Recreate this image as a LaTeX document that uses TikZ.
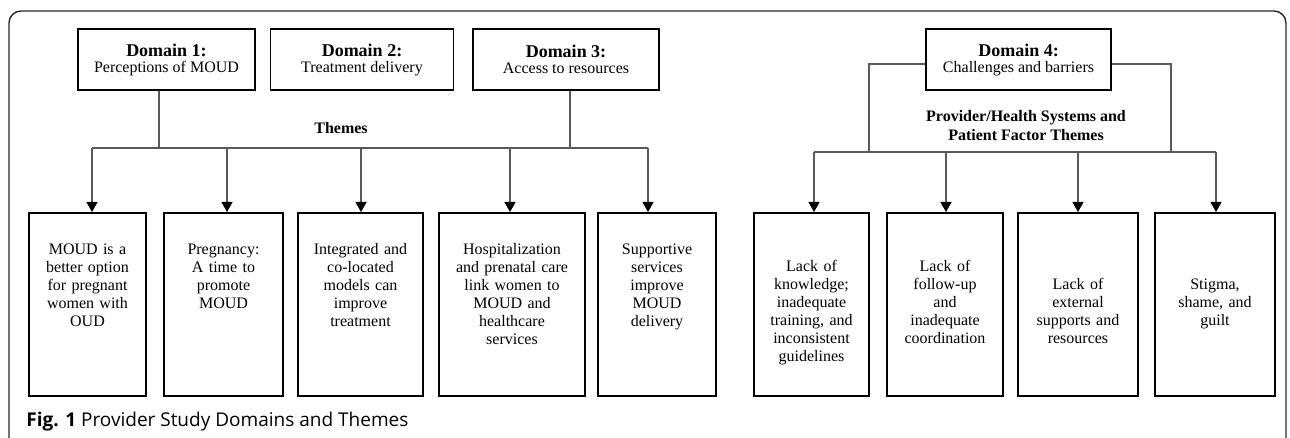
\documentclass[tikz,border=0pt]{standalone}
\usepackage{fontspec}
\setmainfont{Liberation Serif}
\newfontfamily\figcapfont{Open Sans}
\usetikzlibrary{arrows.meta}
\definecolor{LinkClr}{rgb}{0.35,0.35,0.35}
\definecolor{FrameClr}{rgb}{0.15,0.15,0.15}

\begin{document}
\begin{tikzpicture}[x=0.5pt,y=-0.5pt,
  domainbox/.style={draw,line width=0.8pt,minimum height=30.5pt,inner sep=0pt,align=center,font=\fontsize{8}{8}\selectfont},
  themebox/.style={draw,line width=0.8pt,anchor=north,inner sep=0pt,align=center,text height=21pt,text depth=70.5pt,font=\fontsize{8}{9}\selectfont},
  headtxt/.style={align=center,inner sep=0pt,font=\fontsize{8}{9.5}\selectfont\bfseries},
  link/.style={color=LinkClr,line width=0.6pt},
  tip/.style={link,-{Triangle[width=5.5pt,length=5pt,color=black]}}]
\useasboundingbox (0,0) rectangle (1290,438);

\draw[FrameClr,line width=0.7pt,rounded corners=6pt] (9,438) -- (9,11) -- (1286,11) -- (1286,438);

\node[domainbox,minimum width=88.5pt] (d1) at (166.5,59.5) {{\fontsize{9}{9}\selectfont\bfseries Domain 1:}\\Perceptions of MOUD};
\node[domainbox,minimum width=91.5pt] (d2) at (362,59.5) {{\fontsize{9}{9}\selectfont\bfseries Domain 2:}\\Treatment delivery};
\node[domainbox,minimum width=93pt] (d3) at (566,59.5) {{\fontsize{9}{9}\selectfont\bfseries Domain 3:}\\Access to resources};
\node[domainbox,minimum width=92.5pt] (d4) at (1018.5,59.5) {{\fontsize{9}{9}\selectfont\bfseries Domain 4:}\\Challenges and barriers};

\node[headtxt] (themes) at (341,128) {Themes};
\node[headtxt] (factors) at (1026,126) {Provider/Health Systems and\\Patient Factor Themes};

\node[themebox,text width=58.5pt] (b1) at (87.5,212) {MOUD is a\\better option\\for pregnant\\women with\\OUD};
\node[themebox,text width=59.5pt] (b2) at (223.5,212) {Pregnancy:\\A time to\\promote\\MOUD};
\node[themebox,text width=62.5pt] (b3) at (360.5,212) {Integrated and\\co-located\\models can\\improve\\treatment};
\node[themebox,text width=73pt] (b4) at (512,212) {Hospitalization\\and prenatal care\\link women to\\MOUD and\\healthcare\\services};
\node[themebox,text width=59pt] (b5) at (657,212) {Supportive\\services\\improve\\MOUD\\delivery};
\node[themebox,text width=57.5pt,text height=29.5pt,text depth=62pt] (b6) at (811.5,212) {Lack of\\knowledge;\\inadequate\\training, and\\inconsistent\\guidelines};
\node[themebox,text width=58pt,text height=29.5pt,text depth=62pt] (b7) at (945,212) {Lack of\\follow-up\\and\\inadequate\\coordination};
\node[themebox,text width=60pt,text height=38.5pt,text depth=53pt] (b8) at (1078,212) {Lack of\\external\\supports and\\resources};
\node[themebox,text width=60pt,text height=38.5pt,text depth=53pt] (b9) at (1215,212) {Stigma,\\shame, and\\guilt};

\coordinate (j1) at (159,148);
\coordinate (j3) at (570,148);
\coordinate (t1) at (92,148);
\coordinate (t2) at (227,148);
\coordinate (t3) at (361,148);
\coordinate (t4) at (510,148);
\coordinate (t5) at (648,148);
\coordinate (jl) at (869,152);
\coordinate (jr) at (1171,152);
\coordinate (t6) at (814,152);
\coordinate (t7) at (946,152);
\coordinate (t8) at (1078,152);
\coordinate (t9) at (1216,152);

\draw[link] (j1 |- d1.south) -- (j1);
\draw[link] (j3 |- d3.south) -- (j3);
\draw[link] (t1) -- (t5);
\draw[link] ([yshift=-2.25pt]d4.west) -| (jl);
\draw[link] ([yshift=-2.25pt]d4.east) -| (jr);
\draw[link] (t6) -- (t9);

\foreach \i in {1,...,9}
  \draw[tip] (t\i) -- (t\i |- b\i.north);

\node[anchor=base west,inner sep=0pt,font=\figcapfont\fontsize{9.5}{9.5}\selectfont] (caption) at (26,426) {\textbf{Fig. 1} Provider Study Domains and Themes};
\end{tikzpicture}
\end{document}
